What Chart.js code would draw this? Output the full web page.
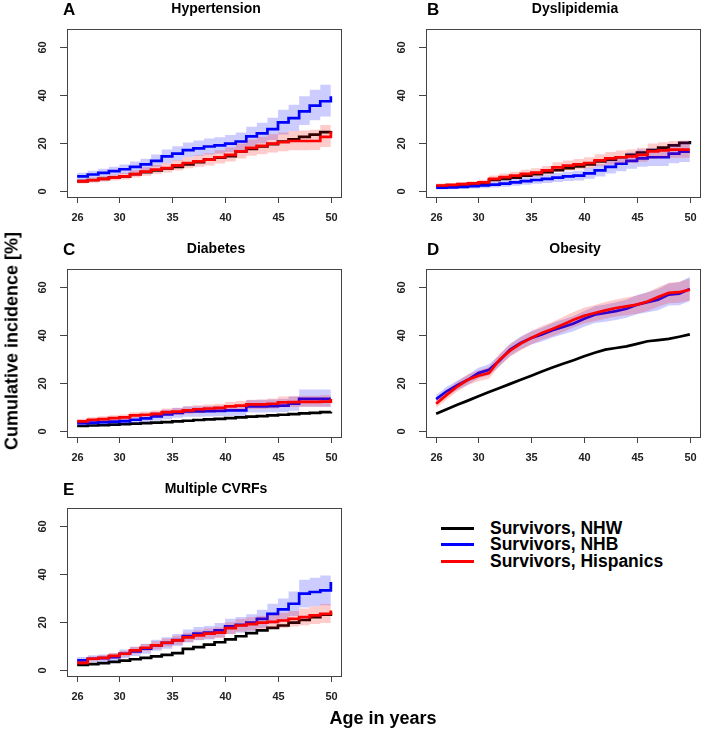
<!DOCTYPE html>
<html>
<head>
<meta charset="utf-8">
<script src="https://cdn.jsdelivr.net/npm/chart.js@4/dist/chart.umd.min.js"></script>
<style>
  body { margin: 0; background: #fff; }
  #wrap { position: relative; width: 705px; height: 731px; font-family: "Liberation Sans", Arial, sans-serif; }
  canvas { position: absolute; }
  .lab { position: absolute; font-weight: bold; font-size: 17.5px; color: #000; white-space: nowrap; }
  .ax { font-size: 18px; }
  .leg { position: absolute; left: 441px; width: 33px; height: 0; border-top: 3px solid; }
</style>
</head>
<body>
<div id="wrap">
  <canvas id="pA" width="350" height="240" style="left:0;top:0"></canvas>
  <canvas id="pB" width="355" height="240" style="left:350px;top:0"></canvas>
  <canvas id="pC" width="350" height="240" style="left:0;top:240px"></canvas>
  <canvas id="pD" width="355" height="240" style="left:350px;top:240px"></canvas>
  <canvas id="pE" width="350" height="240" style="left:0;top:480px"></canvas>

  <div class="lab ax" style="left:12px;top:341px;transform:translate(-50%,-50%) rotate(-90deg)">Cumulative incidence [%]</div>
  <div class="lab ax" style="left:383px;top:718px;transform:translate(-50%,-50%)">Age in years</div>

  <div class="leg" style="top:527px;border-color:#000"></div>
  <div class="leg" style="top:543px;border-color:#0000ff"></div>
  <div class="leg" style="top:560px;border-color:#ff0000"></div>
  <div class="lab" style="left:490px;top:518px">Survivors, NHW</div>
  <div class="lab" style="left:490px;top:534px">Survivors, NHB</div>
  <div class="lab" style="left:490px;top:551px">Survivors, Hispanics</div>
</div>

<script>
const ages = [26, 27, 28, 29, 30, 31, 32, 33, 34, 35, 36, 37, 38, 39, 40, 41, 42, 43, 44, 45, 46, 47, 48, 49, 50];
const xTicks = [26, 30, 35, 40, 45, 50];
const yTicks = [0, 20, 40, 60];

// A - Hypertension
const htnNHW    = [4, 4.5, 5, 5.5, 6, 7, 7.8, 8.5, 9.3, 10, 11, 12, 13, 13.8, 14.5, 16.5, 17.5, 18.5, 19.5, 20.5, 21.5, 22.5, 23.5, 24.5, 25];
const htnNHB    = [6, 6.8, 7.5, 8.2, 9, 10, 11, 12.5, 14.4, 15.5, 17, 17.7, 18.5, 19, 19.7, 20.6, 22.7, 24, 25.8, 28.6, 30.4, 33.2, 35.6, 37.4, 39.5];
const htnNHBlo  = [4.5, 5.2, 5.8, 6.3, 7, 7.8, 8.6, 9.8, 11.5, 12.7, 14, 14.6, 15.2, 15.6, 16.2, 17, 18.6, 19.8, 21.2, 23.5, 25, 27.5, 29.5, 31, 32.5];
const htnNHBhi  = [7.5, 8.4, 9.2, 10, 11, 12.2, 13.4, 15.2, 17.3, 18.6, 20.2, 21, 21.8, 22.4, 23.3, 24.3, 26.8, 28.4, 30.5, 33.9, 35.9, 39.5, 42.2, 44.3, 46.9];
const htnHisp   = [3.9, 4.4, 5, 5.5, 6, 7, 8, 8.8, 9.5, 10.6, 11.6, 12.3, 13, 14, 15, 16.5, 17.9, 18.8, 19.7, 20.3, 20.8, 20.8, 20.8, 22.5, 24.8];
const htnHisplo = [3, 3.4, 3.9, 4.3, 4.7, 5.5, 6.3, 7, 7.6, 8.5, 9.4, 10, 10.6, 11.4, 12.2, 13.5, 14.6, 15.3, 16, 16.5, 16.9, 16.9, 17, 18.3, 19.5];
const htnHisphi = [4.9, 5.5, 6.2, 6.8, 7.4, 8.6, 9.8, 10.8, 11.6, 12.9, 14, 14.9, 15.7, 16.9, 18.1, 19.8, 21.4, 22.6, 23.6, 24.4, 25, 25.2, 25.5, 27.5, 30.5];

// B - Dyslipidemia
const dysNHW    = [2, 2.2, 2.5, 2.8, 3, 4.5, 5, 5.5, 6.3, 7, 7.8, 8.6, 9.5, 10.2, 11, 12.3, 13, 14, 15, 16, 17, 18, 19, 20, 20.8];
const dysNHB    = [1.3, 1.4, 1.6, 1.9, 2.2, 2.6, 3, 3.5, 4, 4.5, 5, 5.5, 6, 6.3, 7.3, 8.5, 10, 11.3, 12.5, 13.5, 14, 14, 15.5, 16.3, 16.3];
const dysNHBlo  = [0.5, 0.6, 0.7, 0.9, 1.1, 1.4, 1.7, 2.1, 2.5, 2.9, 3.3, 3.7, 4.1, 4.3, 5, 6, 7.2, 8.2, 9.2, 10, 10.4, 10.4, 11.5, 12, 12];
const dysNHBhi  = [2.2, 2.3, 2.6, 3, 3.4, 3.9, 4.4, 5, 5.6, 6.2, 6.8, 7.4, 8, 8.4, 9.6, 11.1, 12.9, 14.5, 16, 17.2, 17.8, 17.8, 19.6, 20.7, 20.8];
const dysHisp   = [2.2, 2.5, 2.8, 3.1, 3.5, 5, 5.7, 6.3, 7.1, 7.6, 8.5, 9.8, 10.5, 11, 11.6, 12.7, 13.5, 14, 14.4, 15, 16.5, 16.9, 17.2, 17.2, 17.2];
const dysHisplo = [1.5, 1.7, 2, 2.2, 2.5, 3.8, 4.4, 4.9, 5.6, 6, 6.8, 7.9, 8.5, 8.9, 9.4, 10.3, 11, 11.4, 11.7, 12.1, 13.4, 13.6, 13.8, 13.8, 13.8];
const dysHisphi = [3, 3.3, 3.7, 4, 4.6, 6.4, 7.2, 7.9, 8.8, 9.4, 10.4, 11.9, 12.7, 13.3, 14, 15.3, 16.2, 16.8, 17.3, 18, 19.8, 20.3, 20.8, 21, 21.2];

// C - Diabetes
const diaNHW    = [2, 2.2, 2.4, 2.6, 2.8, 3, 3.2, 3.4, 3.6, 3.9, 4.2, 4.5, 4.8, 5, 5.3, 5.6, 5.9, 6.1, 6.4, 6.7, 7, 7.3, 7.5, 7.8, 8];
const diaNHB    = [3.2, 3.4, 3.6, 3.8, 4, 4.6, 5.2, 6, 6.8, 7.5, 8.1, 8.1, 8.2, 8.3, 8.5, 8.5, 10.2, 10.2, 10.3, 10.5, 11.3, 13.3, 13.3, 13.3, 13.3];
const diaNHBlo  = [2, 2.1, 2.3, 2.4, 2.6, 3.1, 3.6, 4.2, 4.8, 5.4, 5.9, 5.9, 6, 6.1, 6.2, 6.2, 7.6, 7.6, 7.7, 7.8, 8.4, 10, 10, 10, 10];
const diaNHBhi  = [4.5, 4.7, 5, 5.2, 5.4, 6.1, 6.8, 7.8, 8.8, 9.6, 10.3, 10.3, 10.4, 10.5, 10.8, 10.9, 12.9, 13, 13.1, 13.3, 14.3, 17.3, 17.3, 17.3, 17.3];
const diaHisp   = [3.9, 4.6, 4.9, 5.3, 5.6, 6.4, 6.7, 7.1, 7.8, 8, 8.5, 9, 9.3, 9.6, 10.2, 10.5, 11, 11, 11.3, 11.9, 12, 12.1, 12.1, 12.2, 13.3];
const diaHisplo = [3, 3.6, 3.9, 4.2, 4.5, 5.2, 5.4, 5.8, 6.4, 6.6, 7, 7.4, 7.7, 8, 8.5, 8.7, 9.1, 9.1, 9.3, 9.8, 9.9, 10, 10, 10, 10.6];
const diaHisphi = [5, 5.7, 6.1, 6.5, 6.8, 7.7, 8.1, 8.5, 9.3, 9.5, 10.1, 10.7, 11, 11.3, 12, 12.4, 13, 13.1, 13.5, 14.3, 14.4, 14.6, 14.6, 14.8, 17];

// D - Obesity
const obeNHW    = [7.1, 9, 10.9, 12.6, 14.4, 16.2, 17.9, 19.6, 21.3, 23, 24.8, 26.4, 28, 29.5, 31.1, 32.6, 33.9, 34.6, 35.3, 36.3, 37.4, 37.9, 38.4, 39.3, 40.3];
const obeNHB    = [13.2, 16.5, 19, 21.3, 24.1, 25.5, 29.4, 33.9, 36.7, 38.8, 40.2, 42, 43.4, 44.8, 46.8, 48.5, 49.2, 50, 51, 52.7, 53.7, 54.8, 56.9, 57.3, 59.3];
const obeNHBlo  = [11.5, 14.6, 17, 19.2, 21.9, 23.2, 27, 31.3, 34, 36, 37.3, 39, 40.3, 41.6, 43.5, 45, 45.6, 46.3, 47.2, 48.7, 49.5, 50.4, 52.3, 52.5, 54.2];
const obeNHBhi  = [14.9, 18.4, 21, 23.4, 26.3, 27.8, 31.8, 36.5, 39.4, 41.6, 43.1, 45, 46.5, 48, 50.1, 52, 52.8, 53.7, 54.8, 56.7, 57.9, 59.2, 61.5, 62.1, 64.4];
const obeHisp   = [11.3, 15, 18.5, 21.3, 23, 24.1, 29.7, 33.5, 36.4, 38.8, 40.9, 42.5, 44.4, 46.4, 48.1, 49.2, 50.3, 51.3, 52, 52.7, 54, 55.9, 57.6, 57.9, 59];
const obeHisplo = [9.6, 13.1, 16.4, 19.1, 20.7, 21.7, 27.2, 30.9, 33.7, 36, 38, 39.5, 41.3, 43.2, 44.8, 45.8, 46.8, 47.7, 48.3, 48.9, 50.1, 51.8, 53.3, 53.5, 54.4];
const obeHisphi = [13, 16.9, 20.6, 23.5, 25.3, 26.5, 32.2, 36.1, 39.1, 41.6, 43.8, 45.5, 47.5, 49.6, 51.4, 52.6, 53.8, 54.9, 55.7, 56.5, 57.9, 60, 61.9, 62.3, 63.6];

// E - Multiple CVRFs
const mulNHW    = [2, 2.4, 2.8, 3.3, 3.8, 4.4, 5, 5.6, 6.2, 7, 8.7, 9.5, 10.5, 11.5, 12.7, 14, 15.3, 16.5, 17.5, 18.5, 19.7, 20.8, 22, 23, 24];
const mulNHB    = [3.9, 4.6, 4.9, 5.3, 6.7, 7.7, 8.8, 10.2, 11.2, 12.4, 14.1, 15.1, 15.5, 16.5, 18.1, 18.8, 19.7, 21.3, 23.4, 25.2, 27.6, 31.8, 32.5, 33.2, 36.7];
const mulNHBlo  = [2.5, 3.1, 3.4, 3.7, 4.9, 5.8, 6.7, 7.9, 8.8, 9.9, 11.4, 12.3, 12.7, 13.5, 14.9, 15.5, 16.2, 17.5, 19.2, 20.6, 22.5, 26, 26.5, 27, 30];
const mulNHBhi  = [5.3, 6.1, 6.4, 6.9, 8.5, 9.6, 10.9, 12.5, 13.6, 15, 16.8, 17.9, 18.3, 19.5, 21.3, 22.1, 23.2, 25.1, 27.6, 29.8, 32.7, 37.6, 38.5, 39.4, 43.5];
const mulHisp   = [2.9, 4.6, 5, 5.8, 6.7, 8.1, 9.2, 10.2, 11.3, 12.3, 13.5, 14.4, 15.1, 15.5, 17.4, 18.5, 19.1, 19.7, 20, 20.6, 21.3, 22, 22.7, 23.4, 24.8];
const mulHisplo = [2, 3.6, 4, 4.6, 5.4, 6.7, 7.7, 8.6, 9.6, 10.5, 11.6, 12.4, 13, 13.3, 15, 15.9, 16.4, 16.9, 17.1, 17.5, 18.1, 18.6, 19.1, 19.5, 20.3];
const mulHisphi = [3.9, 5.6, 6.1, 7, 8, 9.6, 10.8, 11.9, 13.1, 14.2, 15.5, 16.5, 17.3, 17.8, 19.9, 21.2, 21.9, 22.6, 23, 23.8, 24.6, 25.6, 26.5, 27.5, 30];

function pts(vals) {
  return ages.map((a, i) => ({ x: a, y: vals[i] }));
}

// R style box, ticks and labels, drawn from the chart scales
const rAxes = {
  id: 'rAxes',
  afterDraw(chart, args, o) {
    const c = chart.ctx, a = chart.chartArea;
    const xs = chart.scales.x, ys = chart.scales.y;
    c.save();
    c.strokeStyle = '#444';
    c.lineWidth = 1;
    c.strokeRect(a.left + 0.5, a.top + 0.5, a.right - a.left, a.bottom - a.top);
    c.fillStyle = '#222';
    c.font = 'bold 11px "Liberation Sans", Arial, sans-serif';
    c.textAlign = 'center';
    c.textBaseline = 'middle';
    c.beginPath();
    xTicks.forEach(t => {
      const px = Math.round(xs.getPixelForValue(t)) + 0.5;
      c.moveTo(px, a.bottom);
      c.lineTo(px, a.bottom + 6);
      c.fillText(String(t), px, a.bottom + 21);
    });
    yTicks.forEach(t => {
      const py = Math.round(ys.getPixelForValue(t)) + 0.5;
      c.moveTo(a.left, py);
      c.lineTo(a.left - 7, py);
      c.save();
      c.translate(a.left - 24, py);
      c.rotate(-Math.PI / 2);
      c.fillText(String(t), 0, 0);
      c.restore();
    });
    c.stroke();
    c.fillStyle = '#000';
    c.font = 'bold 14px "Liberation Sans", Arial, sans-serif';
    c.fillText(o.title, (a.left + a.right) / 2 + 12, 9);
    c.textAlign = 'left';
    c.font = 'bold 17px "Liberation Sans", Arial, sans-serif';
    c.fillText(o.letter, o.letterX, 10);
    c.restore();
  }
};

function makePanel(id, letter, letterX, title, nhw, nhb, nhbLo, nhbHi, hisp, hispLo, hispHi, pad, stepped) {
  const line = (vals, color, order) => ({
    data: pts(vals), borderColor: color, borderWidth: 2.7, pointRadius: 0,
    stepped: stepped, fill: false, order: order
  });
  const band = (vals, color, fill, order) => ({
    data: pts(vals), borderColor: 'rgba(0,0,0,0)', borderWidth: 0, pointRadius: 0,
    backgroundColor: color, stepped: stepped, fill: fill, order: order
  });
  new Chart(document.getElementById(id), {
    type: 'line',
    data: {
      datasets: [
        line(nhw, '#000000', 7),
        band(nhbLo, 'rgba(0,0,255,0.2)', false, 6),
        band(nhbHi, 'rgba(0,0,255,0.2)', '-1', 5),
        line(nhb, '#0000ff', 4),
        band(hispLo, 'rgba(255,0,0,0.2)', false, 3),
        band(hispHi, 'rgba(255,0,0,0.2)', '-1', 2),
        line(hisp, '#ff0000', 1)
      ]
    },
    options: {
      responsive: false,
      animation: false,
      devicePixelRatio: 1,
      layout: { padding: pad },
      scales: {
        x: { type: 'linear', min: 25.04, max: 50.96, display: false },
        y: { min: -2.6, max: 67.6, display: false }
      },
      plugins: {
        legend: { display: false },
        tooltip: { enabled: false },
        rAxes: { title: title, letter: letter, letterX: letterX }
      }
    },
    plugins: [rAxes]
  });
}

const padL = { left: 67, right: 9, top: 29, bottom: 43 };
const padR = { left: 76, right: 5, top: 29, bottom: 43 };
const padE = { left: 67, right: 9, top: 28, bottom: 44 };

makePanel('pA', 'A', 63, 'Hypertension', htnNHW, htnNHB, htnNHBlo, htnNHBhi, htnHisp, htnHisplo, htnHisphi, padL, true);
makePanel('pB', 'B', 77, 'Dyslipidemia', dysNHW, dysNHB, dysNHBlo, dysNHBhi, dysHisp, dysHisplo, dysHisphi, padR, true);
makePanel('pC', 'C', 63, 'Diabetes', diaNHW, diaNHB, diaNHBlo, diaNHBhi, diaHisp, diaHisplo, diaHisphi, padL, true);
makePanel('pD', 'D', 77, 'Obesity', obeNHW, obeNHB, obeNHBlo, obeNHBhi, obeHisp, obeHisplo, obeHisphi, padR, false);
makePanel('pE', 'E', 63, 'Multiple CVRFs', mulNHW, mulNHB, mulNHBlo, mulNHBhi, mulHisp, mulHisplo, mulHisphi, padE, true);
</script>
</body>
</html>
